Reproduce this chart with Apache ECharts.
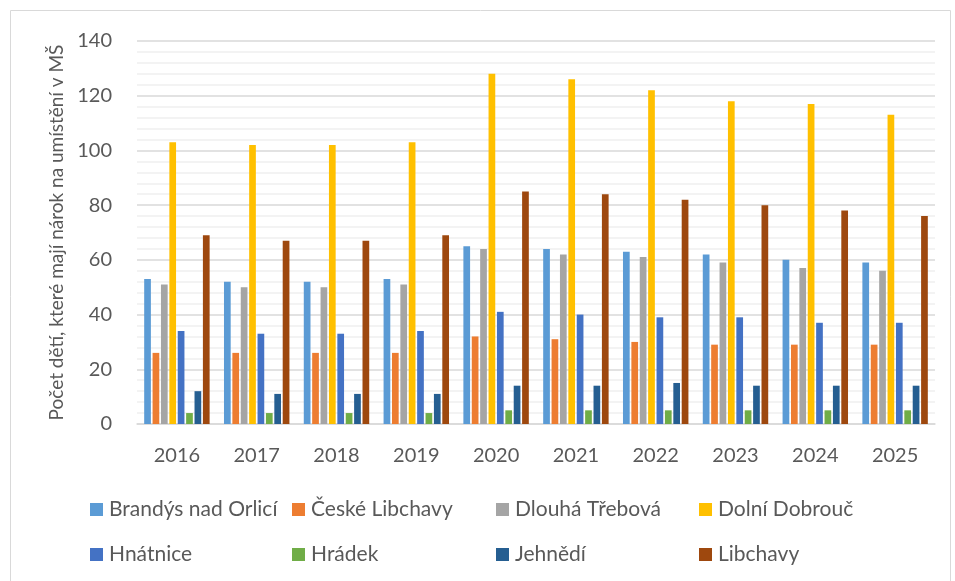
<!DOCTYPE html>
<html><head><meta charset="utf-8">
<script src="https://cdn.jsdelivr.net/npm/echarts@6/dist/echarts.min.js"></script>
<style>html,body{margin:0;padding:0;background:#fff}#c{width:955px;height:581px}</style>
</head><body><div id="c"></div>
<script>
const years = ['2016','2017','2018','2019','2020','2021','2022','2023','2024','2025'];
const brandys = [53,52,52,53,65,64,63,62,60,59];
const ceske = [26,26,26,26,32,31,30,29,29,29];
const dlouha = [51,50,50,51,64,62,61,59,57,56];
const dolni = [103,102,102,103,128,126,122,118,117,113];
const hnatnice = [34,33,33,34,41,40,39,39,37,37];
const hradek = [4,4,4,4,5,5,5,5,5,5];
const jehnedi = [12,11,11,11,14,14,15,14,14,14];
const libchavy = [69,67,67,69,85,84,82,80,78,76];
const names = ['Brandýs nad Orlicí','České Libchavy','Dlouhá Třebová','Dolní Dobrouč','Hnátnice','Hrádek','Jehnědí','Libchavy'];
const values = [brandys,ceske,dlouha,dolni,hnatnice,hradek,jehnedi,libchavy];
const colors = ['#5B9BD5','#ED7D31','#A5A5A5','#FFC000','#4472C4','#70AD47','#255E91','#9E480E'];
const yTitle = 'Počet dětí, které mají nárok na umístění v MŠ';

const font = 'Lato, "Open Sans", sans-serif';
const chart = echarts.init(document.getElementById('c'), null, {renderer:'canvas'});
const colX = [90, 292, 496, 699];
const rowY = [499, 544];
const legends = names.map((n, i) => ({
  left: colX[i % 4], top: rowY[Math.floor(i / 4)], padding: 0,
  itemWidth: 13, itemHeight: 13, icon: 'rect',
  textStyle: {fontFamily: font, fontSize: 21, color: '#595959', padding: [0,0,0,1]},
  data: [n]
}));
chart.setOption({
  animation: false,
  color: colors,
  graphic: [{type:'rect', shape:{x:10.5,y:10.5,width:940,height:600}, style:{fill:'none', stroke:'#d9d9d9', lineWidth:1}}],
  grid: {left: 137, right: 20, top: 41, bottom: 157},
  legend: legends,
  xAxis: {
    type: 'category', data: years,
    axisLine: {lineStyle: {color: '#d9d9d9', width: 1.5}},
    axisTick: {show: false},
    axisLabel: {fontFamily: font, fontSize: 20, color: '#595959', margin: 22}
  },
  yAxis: {
    type: 'value', min: 0, max: 140, interval: 20,
    name: yTitle, nameLocation: 'middle', nameGap: 70,
    nameTextStyle: {fontFamily: font, fontSize: 19, color: '#595959'},
    axisLabel: {fontFamily: font, fontSize: 20, color: '#595959', margin: 25},
    splitLine: {lineStyle: {color: '#d9d9d9', width: 1.5}},
    minorTick: {show: false, splitNumber: 5},
    minorSplitLine: {show: true, lineStyle: {color: '#f0f0f0', width: 1.5}}
  },
  series: names.map((n,i) => ({
    name: n, type: 'bar', data: values[i],
    barGap: '25%', barCategoryGap: '18%'
  }))
});
</script></body></html>
